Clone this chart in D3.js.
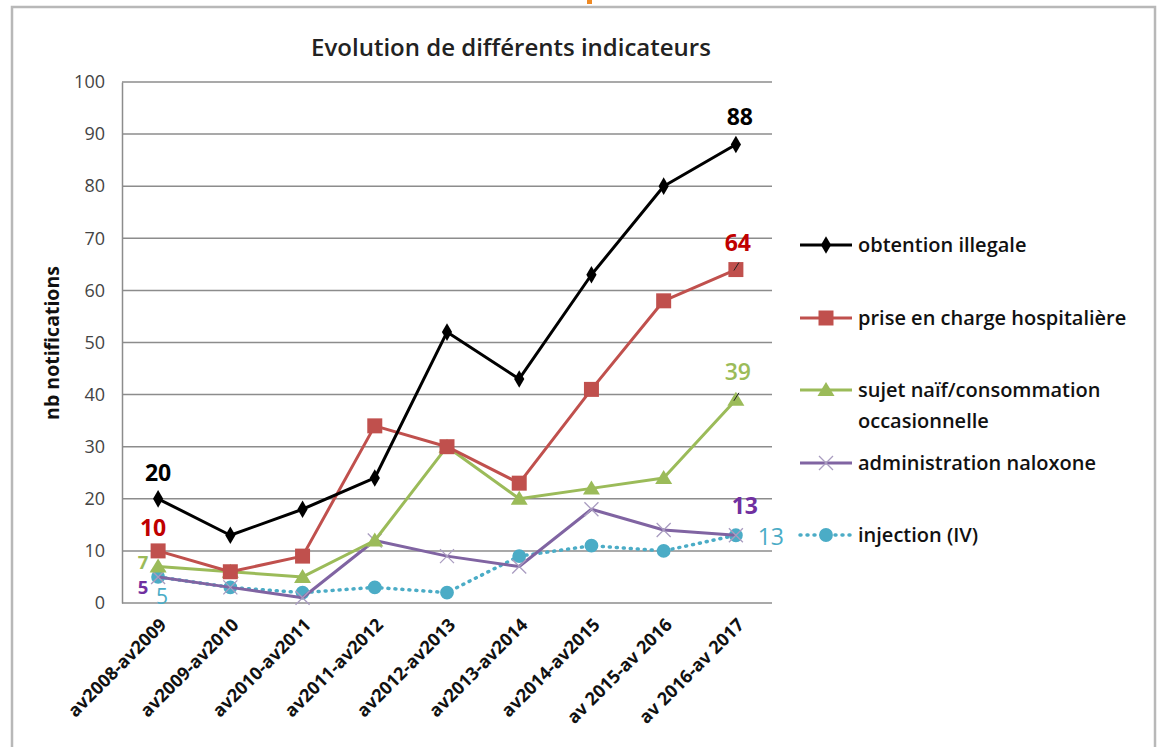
<!DOCTYPE html>
<html>
<head>
<meta charset="utf-8">
<script src="https://cdn.jsdelivr.net/npm/d3@7"></script>
<style>
  html, body { margin: 0; padding: 0; background: #fff; }
  svg { display: block; font-family: "Open Sans", Lato, sans-serif; }
</style>
</head>
<body>
<svg id="chart" width="1161" height="747"></svg>
<script>
// Periods on the x axis
const periods = [
  "av2008-av2009", "av2009-av2010", "av2010-av2011", "av2011-av2012",
  "av2012-av2013", "av2013-av2014", "av2014-av2015", "av 2015-av 2016", "av 2016-av 2017"
];

// Number of notifications per indicator
const obtentionIllegale = [20, 13, 18, 24, 52, 43, 63, 80, 88];
const priseEnCharge     = [10, 6, 9, 34, 30, 23, 41, 58, 64];
const sujetNaif         = [7, 6, 5, 12, 30, 20, 22, 24, 39];
const naloxone          = [5, 3, 1, 12, 9, 7, 18, 14, 13];
const injectionIV       = [5, 3, 2, 3, 2, 9, 11, 10, 13];

const yTicks = [0, 10, 20, 30, 40, 50, 60, 70, 80, 90, 100];

const series = [
  { name: ["obtention illegale"], values: obtentionIllegale, color: "#000000", marker: "diamond", dash: null },
  { name: ["prise en charge hospitalière"], values: priseEnCharge, color: "#c0504d", marker: "square", dash: null },
  { name: ["sujet naïf/consommation", "occasionnelle"], values: sujetNaif, color: "#9bbb59", marker: "triangle", dash: null },
  { name: ["administration naloxone"], values: naloxone, color: "#8064a2", marker: "cross", dash: null },
  { name: ["injection (IV)"], values: injectionIV, color: "#4bacc6", marker: "circle", dash: "1 6" }
];

const svg = d3.select("#chart");

// Outer frame
svg.append("rect")
  .attr("x", 12).attr("y", 7).attr("width", 1143).attr("height", 760)
  .attr("fill", "#fff").attr("stroke", "#b8b8b8").attr("stroke-width", 2.5);
svg.append("rect").attr("x", 587).attr("y", 0).attr("width", 5).attr("height", 4).attr("fill", "#f08a24");

const plot = { left: 122, top: 82, right: 772, bottom: 603 };

const x = d3.scalePoint().domain(periods).range([plot.left, plot.right]).padding(0.5);
const y = d3.scaleLinear().domain([0, 100]).range([plot.bottom, plot.top]);

// Title
svg.append("text")
  .attr("x", 511).attr("y", 56)
  .attr("text-anchor", "middle")
  .attr("font-size", 24).attr("font-weight", 600).attr("fill", "#222")
  .text("Evolution de différents indicateurs");

// Horizontal gridlines
svg.append("g").selectAll("line").data(yTicks.filter(d => d > 0)).join("line")
  .attr("x1", plot.left).attr("x2", plot.right)
  .attr("y1", d => y(d)).attr("y2", d => y(d))
  .attr("stroke", "#8c8c8c").attr("stroke-width", 1.5);

// Y axis
const yAxis = svg.append("g")
  .attr("transform", `translate(${plot.left},0)`)
  .call(d3.axisLeft(y).tickValues(yTicks).tickSize(0).tickPadding(17));
yAxis.select(".domain").attr("stroke", "#8c8c8c").attr("stroke-width", 1.5);
yAxis.selectAll("text").attr("font-size", 18).attr("fill", "#444").attr("font-family", "'Open Sans', sans-serif");

// X axis
const xAxis = svg.append("g")
  .attr("transform", `translate(0,${plot.bottom})`)
  .call(d3.axisBottom(x).tickSize(0).tickPadding(0));
xAxis.select(".domain").attr("stroke", "#8c8c8c").attr("stroke-width", 1.5)
  .attr("d", `M${plot.left},0H${plot.right}`);
xAxis.selectAll("text")
  .attr("font-size", 18).attr("font-weight", 700).attr("fill", "#111")
  .attr("font-family", "'Open Sans', sans-serif")
  .attr("text-anchor", "end")
  .attr("dy", 0)
  .attr("transform", "translate(9,23) rotate(-45)");

// Y axis title
svg.append("text")
  .attr("transform", "translate(59,343) rotate(-90)")
  .attr("text-anchor", "middle")
  .attr("font-size", 19.5).attr("font-weight", 700).attr("fill", "#111")
  .text("nb notifications");

// Marker shapes
function markerPath(type) {
  switch (type) {
    case "diamond": return d3.symbol(d3.symbolDiamond, 90)();
    case "square": return "M-7.5,-7.5H7.5V7.5H-7.5Z";
    case "triangle": return "M0,-8L8.5,6H-8.5Z";
    case "circle": return d3.symbol(d3.symbolCircle, 150)();
    case "cross": return "M-7,-7L7,7M-7,7L7,-7";
  }
}
function drawMarker(g, s) {
  if (s.marker === "cross") {
    g.append("path").attr("d", markerPath("cross"))
      .attr("fill", "none").attr("stroke", "#a99cc0").attr("stroke-width", 1.3);
  } else {
    g.append("path").attr("d", markerPath(s.marker)).attr("fill", s.color);
  }
}

const line = d3.line().x((d, i) => x(periods[i])).y(d => y(d));

// Draw series in reverse so the dark line sits on top
const seriesG = svg.append("g");
[...series].reverse().forEach(s => {
  const g = seriesG.append("g");
  g.append("path")
    .attr("d", line(s.values))
    .attr("fill", "none")
    .attr("stroke", s.color)
    .attr("stroke-width", s.dash ? 3.5 : 3)
    .attr("stroke-linecap", s.dash ? "round" : "butt")
    .attr("stroke-linejoin", "round")
    .attr("stroke-dasharray", s.dash);
  s.values.forEach((v, i) => {
    const m = g.append("g").attr("transform", `translate(${x(periods[i])},${y(v)})`);
    drawMarker(m, s);
  });
});

// Value labels at first and last points
const first = periods[0], last = periods[periods.length - 1];
const n = periods.length - 1;
const valueLabels = [
  { px: first, val: obtentionIllegale[0], dx: 0, dy: -26, color: "#000" },
  { px: first, val: priseEnCharge[0], dx: -5, dy: -23, color: "#c00000" },
  { px: first, val: sujetNaif[0], dx: -15, dy: -4.5, color: "#9bbb59", size: 18.5 },
  { px: first, val: naloxone[0], dx: -15, dy: 11, color: "#7030a0", size: 18.5 },
  { px: first, val: injectionIV[0], dx: 4, dy: 20, color: "#4bacc6", weight: 400, size: 21 },
  { px: last, val: obtentionIllegale[n], dx: 4, dy: -28, color: "#000" },
  { px: last, val: priseEnCharge[n], dx: 2, dy: -27, color: "#c00000" },
  { px: last, val: sujetNaif[n], dx: 2, dy: -28, color: "#9bbb59", weight: 600 },
  { px: last, val: naloxone[n], dx: 9, dy: -29, color: "#7030a0" },
  { px: last, val: injectionIV[n], dx: 35, dy: 2, color: "#4bacc6", weight: 400 }
];
svg.append("g").selectAll("text").data(valueLabels).join("text")
  .attr("x", d => x(d.px) + d.dx)
  .attr("y", d => y(d.val) + d.dy)
  .attr("dy", "0.35em")
  .attr("text-anchor", "middle")
  .attr("font-size", d => d.size || 23).attr("font-weight", d => d.weight || 700)
  .attr("fill", d => d.color)
  .text(d => d.val);

// Small leader ticks for the last red and green labels
[priseEnCharge[n], sujetNaif[n]].forEach(v => {
  svg.append("line")
    .attr("x1", x(last) - 2).attr("x2", x(last) + 3)
    .attr("y1", y(v) + 1).attr("y2", y(v) - 7)
    .attr("stroke", "#222").attr("stroke-width", 1);
});

// Legend
const legendRows = [245, 318, 390, 463, 535];
const legend = svg.append("g");
series.forEach((s, i) => {
  const g = legend.append("g").attr("transform", `translate(0,${legendRows[i]})`);
  g.append("line")
    .attr("x1", 800).attr("x2", 852).attr("y1", 0).attr("y2", 0)
    .attr("stroke", s.color)
    .attr("stroke-width", s.dash ? 3.5 : 3)
    .attr("stroke-linecap", s.dash ? "round" : "butt")
    .attr("stroke-dasharray", s.dash ? "1 6" : null);
  const m = g.append("g").attr("transform", "translate(826,0)");
  drawMarker(m, s);
  s.name.forEach((t, j) => {
    g.append("text")
      .attr("x", 858).attr("y", j * 31)
      .attr("dy", "0.35em")
      .attr("font-size", 20).attr("font-weight", 600).attr("fill", "#111")
      .text(t);
  });
});
</script>
</body>
</html>
